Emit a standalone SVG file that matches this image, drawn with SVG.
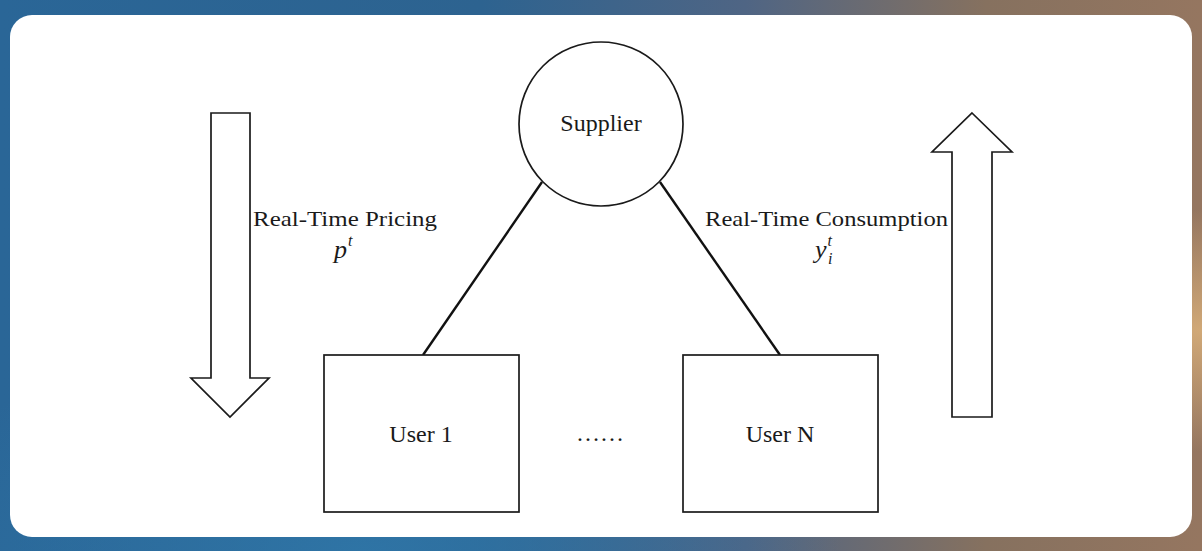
<svg xmlns="http://www.w3.org/2000/svg" width="1202" height="551" viewBox="0 0 1202 551">
  <defs>
    <linearGradient id="bg" x1="0" y1="0" x2="1" y2="0">
      <stop offset="0" stop-color="#2a6697"/>
      <stop offset="0.4" stop-color="#2d6390"/>
      <stop offset="0.62" stop-color="#4f6584"/>
      <stop offset="0.82" stop-color="#86715f"/>
      <stop offset="1" stop-color="#957660"/>
    </linearGradient>
    <radialGradient id="glow" cx="1" cy="0.6" r="0.22">
      <stop offset="0" stop-color="#d4ab78" stop-opacity="0.95"/>
      <stop offset="1" stop-color="#d4ab78" stop-opacity="0"/>
    </radialGradient>
    <radialGradient id="glowbl" cx="0.3" cy="1" r="0.4">
      <stop offset="0" stop-color="#2f78aa" stop-opacity="0.8"/>
      <stop offset="1" stop-color="#2f78aa" stop-opacity="0"/>
    </radialGradient>
    <style>
      .shape { fill: #ffffff; stroke: #1a1a1a; stroke-width: 1.7; }
      .conn { stroke: #111111; stroke-width: 2.4; fill: none; }
      .lbl { font-family: "Liberation Serif", "Times New Roman", serif; fill: #1a1a1a; }
      .math { font-family: "Liberation Serif", "Times New Roman", serif; font-style: italic; fill: #1a1a1a; }
    </style>
  </defs>

  <rect x="0" y="0" width="1202" height="551" fill="url(#bg)"/>
  <rect x="0" y="0" width="1202" height="551" fill="url(#glowbl)"/>
  <rect x="0" y="0" width="1202" height="551" fill="url(#glow)"/>
  <rect x="10" y="15" width="1182" height="522" rx="22" ry="22" fill="#ffffff"/>

  <g id="connectors">
    <line class="conn" x1="542" y1="182" x2="423" y2="355"/>
    <line class="conn" x1="660" y1="182" x2="780" y2="355"/>
  </g>

  <g id="supplier">
    <circle class="shape" cx="601" cy="124" r="82"/>
    <text class="lbl" x="601" y="131" font-size="24" text-anchor="middle">Supplier</text>
  </g>

  <g id="user1">
    <rect class="shape" x="324" y="355" width="195" height="157"/>
    <text class="lbl" x="421" y="442" font-size="24" text-anchor="middle">User 1</text>
  </g>

  <g id="ellipsis">
    <text class="lbl" x="600" y="441" font-size="24" text-anchor="middle">……</text>
  </g>

  <g id="userN">
    <rect class="shape" x="683" y="355" width="195" height="157"/>
    <text class="lbl" x="780" y="442" font-size="24" text-anchor="middle">User N</text>
  </g>

  <g id="pricing-arrow">
    <polygon class="shape" points="211,113 250,113 250,378 269,378 230,417 191,378 211,378"/>
  </g>

  <g id="pricing-label">
    <text class="lbl" x="253" y="226" font-size="21" textLength="184" lengthAdjust="spacingAndGlyphs">Real-Time Pricing</text>
    <text class="math" x="334" y="258" font-size="26">p<tspan font-size="16" dx="1" dy="-12">t</tspan></text>
  </g>

  <g id="consumption-arrow">
    <polygon class="shape" points="972,113 1012,152 992,152 992,417 952,417 952,152 932,152"/>
  </g>

  <g id="consumption-label">
    <text class="lbl" x="705" y="226" font-size="21" textLength="243" lengthAdjust="spacingAndGlyphs">Real-Time Consumption</text>
    <text class="math" x="815" y="258" font-size="26">y<tspan font-size="16" dx="1" dy="-12">t</tspan></text>
    <text class="math" x="828" y="264" font-size="16">i</text>
  </g>
</svg>
